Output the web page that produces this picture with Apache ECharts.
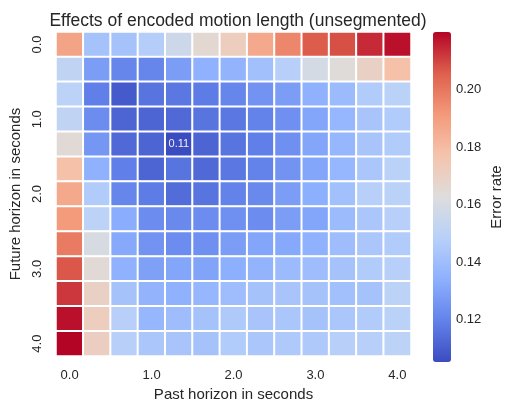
<!DOCTYPE html>
<html>
<head>
<meta charset="utf-8">
<script src="https://cdn.jsdelivr.net/npm/echarts@6/dist/echarts.min.js"></script>
<style>
  html, body { margin: 0; padding: 0; background: #fff; }
  #chart { width: 505px; height: 407px; }
</style>
</head>
<body>
<div id="chart"></div>
<script>
// past horizon (columns) and future horizon (rows), in seconds
const pastLabels = ['0.0', '0.3', '0.7', '1.0', '1.3', '1.7', '2.0', '2.3', '2.7', '3.0', '3.3', '3.7', '4.0']
const futureLabels = ['0.0', '0.3', '0.7', '1.0', '1.3', '1.7', '2.0', '2.3', '2.7', '3.0', '3.3', '3.7', '4.0']

// error rate, one row per future horizon
const errorRows = [
  [0.188, 0.142, 0.142, 0.147, 0.156, 0.166, 0.172, 0.186, 0.196, 0.206, 0.208, 0.214, 0.218],
  [0.152, 0.128, 0.121, 0.121, 0.128, 0.135, 0.136, 0.141, 0.148, 0.159, 0.164, 0.170, 0.178],
  [0.150, 0.119, 0.109, 0.116, 0.117, 0.118, 0.121, 0.125, 0.128, 0.135, 0.139, 0.146, 0.149],
  [0.152, 0.123, 0.112, 0.112, 0.113, 0.116, 0.117, 0.120, 0.124, 0.131, 0.137, 0.143, 0.146],
  [0.165, 0.126, 0.113, 0.112, 0.1054, 0.112, 0.116, 0.119, 0.124, 0.131, 0.137, 0.143, 0.146],
  [0.178, 0.135, 0.119, 0.112, 0.116, 0.113, 0.117, 0.120, 0.125, 0.131, 0.137, 0.144, 0.149],
  [0.186, 0.146, 0.121, 0.118, 0.114, 0.116, 0.120, 0.122, 0.128, 0.134, 0.141, 0.148, 0.149],
  [0.191, 0.150, 0.133, 0.123, 0.122, 0.123, 0.124, 0.123, 0.128, 0.131, 0.139, 0.144, 0.148],
  [0.199, 0.160, 0.132, 0.125, 0.123, 0.124, 0.128, 0.131, 0.132, 0.135, 0.140, 0.144, 0.146],
  [0.207, 0.165, 0.135, 0.129, 0.131, 0.130, 0.134, 0.136, 0.139, 0.140, 0.142, 0.146, 0.148],
  [0.212, 0.170, 0.142, 0.136, 0.135, 0.137, 0.140, 0.142, 0.143, 0.142, 0.141, 0.142, 0.150],
  [0.218, 0.172, 0.148, 0.137, 0.140, 0.142, 0.145, 0.143, 0.144, 0.142, 0.144, 0.146, 0.149],
  [0.2199, 0.171, 0.148, 0.144, 0.143, 0.142, 0.146, 0.144, 0.145, 0.145, 0.148, 0.148, 0.150],
]

const colorbarTicks = [0.12, 0.14, 0.16, 0.18, 0.20]
const vmin = 0.1054
const vmax = 0.2199

// matplotlib coolwarm, sampled
const coolwarm = ['#3b4cc0', '#6282ea', '#8db0fe', '#b8d0f9', '#dddddd', '#f5c4ad', '#f49a7b', '#de604d', '#b40426']

const font = "'Liberation Sans', Arial, sans-serif"
const textColor = '#262626'

const cells = []
let minCell = null
errorRows.forEach((row, y) => {
  row.forEach((v, x) => {
    const item = { value: [x, y, v] }
    if (!minCell || v < minCell.value[2]) minCell = item
    cells.push(item)
  })
})
// only the best cell is annotated
minCell.label = { show: true, formatter: (p) => p.value[2].toFixed(2) }

const chart = echarts.init(document.getElementById('chart'))
chart.setOption({
  backgroundColor: '#fff',
  animation: false,
  textStyle: { fontFamily: font },
  title: {
    text: 'Effects of encoded motion length (unsegmented)',
    left: 233,
    textAlign: 'center',
    top: 7,
    textStyle: { fontFamily: font, fontSize: 17.5, fontWeight: 'normal', color: textColor },
  },
  grid: [
    { left: 56, top: 32, width: 355, height: 330 },
    { left: 433, top: 32, width: 18, height: 330 },
  ],
  xAxis: [
    {
      type: 'category',
      data: pastLabels,
      gridIndex: 0,
      axisLine: { show: false },
      axisTick: { show: false },
      splitLine: { show: false },
      axisLabel: { interval: 2, color: textColor, fontSize: 13, margin: 13 },
      name: 'Past horizon in seconds',
      nameLocation: 'middle',
      nameGap: 30,
      nameTextStyle: { color: textColor, fontSize: 15 },
    },
    { type: 'value', gridIndex: 1, show: false },
  ],
  yAxis: [
    {
      type: 'category',
      data: futureLabels,
      gridIndex: 0,
      inverse: true,
      axisLine: { show: false },
      axisTick: { show: false },
      splitLine: { show: false },
      axisLabel: { interval: 2, rotate: 90, color: textColor, fontSize: 13, margin: 12 },
      name: 'Future horizon in seconds',
      nameLocation: 'middle',
      nameRotate: 90,
      nameGap: 31,
      nameTextStyle: { color: textColor, fontSize: 15 },
    },
    {
      type: 'value',
      gridIndex: 1,
      position: 'right',
      min: vmin,
      max: vmax,
      axisLine: { show: false },
      splitLine: { show: false },
      axisTick: {
        show: true,
        length: 5,
        customValues: colorbarTicks,
        lineStyle: { color: textColor, width: 1 },
      },
      axisLabel: {
        customValues: colorbarTicks,
        formatter: (v) => v.toFixed(2),
        color: textColor,
        fontSize: 13,
        margin: 11,
      },
      name: 'Error rate',
      nameLocation: 'middle',
      nameRotate: 90,
      nameGap: 44,
      nameTextStyle: { color: textColor, fontSize: 15 },
    },
  ],
  visualMap: {
    type: 'continuous',
    min: vmin,
    max: vmax,
    dimension: 2,
    seriesIndex: 0,
    calculable: false,
    left: 433,
    top: 32,
    padding: 0,
    itemWidth: 18,
    itemHeight: 330,
    text: null,
    showLabel: false,
    inRange: { color: coolwarm },
  },
  series: [
    {
      type: 'heatmap',
      xAxisIndex: 0,
      yAxisIndex: 0,
      data: cells,
      itemStyle: { borderColor: '#fff', borderWidth: 2 },
      label: { show: false, color: '#f0f0f0', fontSize: 11, fontFamily: font },
    },
  ],
})
</script>
</body>
</html>
